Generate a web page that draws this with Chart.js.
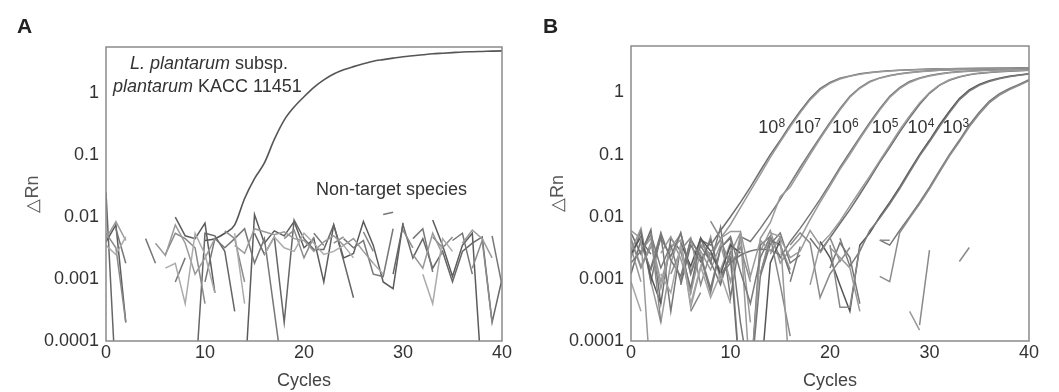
<!DOCTYPE html>
<html>
<head>
<meta charset="utf-8">
<script src="https://cdn.jsdelivr.net/npm/chart.js@4"></script>
<style>
  html, body { margin: 0; padding: 0; background: #fff; }
  #wrap { position: relative; width: 1059px; height: 392px; font-family: "Liberation Sans", Arial, sans-serif; }
  .panel { position: absolute; top: 0; height: 392px; }
  .tag { position: absolute; top: 15px; font-size: 21px; line-height: 21px; font-weight: bold; color: #222; }
</style>
</head>
<body>
<div id="wrap">
  <div class="panel" style="left:0;width:530px"><canvas id="chartA"></canvas></div>
  <div class="panel" style="left:530px;width:529px"><canvas id="chartB"></canvas></div>
  <div class="tag" style="left:17px">A</div>
  <div class="tag" style="left:543px">B</div>
</div>
<script>
const _ = null;
const L = 0.00002; // negative / below the axis, gets clipped

const cycles = [0,1,2,3,4,5,6,7,8,9,10,11,12,13,14,15,16,17,18,19,20,
                21,22,23,24,25,26,27,28,29,30,31,32,33,34,35,36,37,38,39,40];
const xTicks = [0, 10, 20, 30, 40];
const yTicks = [0.0001, 0.001, 0.01, 0.1, 1];
const yTickLabels = ['0.0001', '0.001', '0.01', '0.1', '1'];

// ---- panel A ----
const targetA = [_,_,_,_,_,_,_,_,_,_,
  0.0042,0.0045,0.0055,0.0075,0.02,0.042,0.075,0.18,0.37,0.6,
  0.88,1.25,1.65,2.05,2.4,2.7,3.0,3.3,3.5,3.7,
  3.9,4.05,4.2,4.35,4.45,4.55,4.65,4.7,4.75,4.8,
  4.85];
const noiseA1 = [0.004,0.0075,0.0002,_,_,_,_,0.01,0.005,0.0045,
  0.008,0.0006,_,_,L,0.011,0.0038,0.006,0.005,0.0085,
  0.0032,0.0045,0.0009,0.0075,0.0022,0.0026,0.0085,0.0035,0.0009,0.0007,
  0.008,_,_,0.009,0.0035,0.0011,0.0035,0.0055,L,_,
  _];
const noiseA2 = [0.025,L,_,_,_,_,_,_,_,L,
  0.0055,0.005,0.0028,0.0003,_,0.0055,0.0025,0.0048,0.0002,0.009,
  0.0045,0.003,0.003,0.0075,0.002,0.0005,_,_,_,0.0012,
  0.0075,0.0022,0.0045,0.0015,0.0028,0.0009,0.0028,0.0038,0.0048,0.0002,
  0.001];
const noiseA3 = [0.0045,0.0085,0.0042,_,_,0.0038,0.0024,0.0075,0.0038,0.0012,
  0.0022,0.0045,_,0.0035,0.0026,0.0065,0.0058,0.0052,0.0058,0.0045,
  0.0042,0.0028,0.004,0.005,0.0035,0.0045,0.0028,0.0018,_,0.0055,
  _,0.0025,0.0015,0.0055,0.0025,_,0.0038,0.0062,0.0045,0.0022,
  _];
const noiseA4 = [0.0035,0.0025,0.0048,_,_,_,0.0015,0.0018,0.0004,0.0055,
  0.0025,0.0006,_,0.0055,0.0004,_,0.0025,0.0048,0.0032,0.0028,
  0.0055,0.0038,0.0025,0.0028,0.0035,0.0022,_,0.0018,0.0012,_,
  0.0045,_,0.0012,0.0004,0.0045,0.0028,_,0.0038,_,0.0006,
  _];
const noiseA5 = [_,0.0065,0.0018,_,0.0045,0.0018,_,0.0009,0.0022,_,
  0.0009,0.0045,0.0032,0.0045,0.0065,0.0018,0.0045,0.0003,L,_,
  _,0.0055,0.0035,_,0.0045,0.0032,0.0042,0.0012,0.0011,0.0065,
  _,0.0045,0.0065,0.0013,_,0.0042,0.0055,0.0012,_,0.005,
  0.0008];
const noiseA6 = [0.0055,0.0032,0.0002,_,_,_,0.0025,0.0055,0.0045,0.0032,
  0.0004,_,0.006,0.0045,0.0009,_,_,_,0.0045,0.0062,
  0.0022,0.0048,_,0.0038,0.0048,_,0.0058,0.0028,_,_,
  0.0062,0.0032,_,0.0048,0.0032,0.0048,_,0.0015,0.0042,0.0002,
  _];
const noiseA7 = [_,_,_,_,_,_,_,_,_,_,
  _,_,_,_,_,_,_,_,_,_,
  _,_,_,_,_,_,_,_,0.011,0.012,
  _,_,_,_,_,_,_,_,_,_,
  _];

// ---- panel B (two replicates per dilution) ----
const dil8a = [0.0055,0.0025,0.0062,0.0004,0.0045,0.0028,0.0007,0.0042,0.0035,0.006,
  0.01,0.017,0.03,0.055,0.1,0.17,0.3,0.5,0.8,1.15,
  1.45,1.7,1.85,2.0,2.1,2.18,2.24,2.28,2.32,2.35,
  2.38,2.4,2.42,2.43,2.44,2.45,2.46,2.47,2.48,2.49,
  2.5];
const dil8b = [0.0028,0.0065,0.0009,0.0002,0.0018,0.0055,0.0012,0.0045,0.0021,0.0045,
  0.0075,0.014,0.026,0.048,0.09,0.16,0.28,0.47,0.76,1.1,
  1.4,1.65,1.82,1.97,2.08,2.16,2.22,2.27,2.31,2.34,
  2.37,2.39,2.41,2.42,2.43,2.44,2.45,2.46,2.47,2.48,
  2.49];
const dil7a = [0.0022,0.0058,0.0009,0.0052,0.0003,0.0035,0.0006,0.0045,0.0018,0.0068,
  0.0005,0.0048,0.004,0.0065,0.011,0.019,0.034,0.062,0.11,0.19,
  0.33,0.55,0.87,1.2,1.5,1.72,1.87,2.0,2.1,2.18,
  2.24,2.28,2.32,2.35,2.37,2.39,2.4,2.41,2.42,2.43,
  2.45];
const dil7b = [0.0045,0.0016,0.0038,0.0007,0.0032,0.0042,0.00035,0.0015,0.0048,0.0009,
  0.0026,0.0055,L,0.0045,0.008,0.021,0.03,0.055,0.1,0.18,
  0.31,0.52,0.84,1.17,1.47,1.7,1.85,1.98,2.08,2.16,
  2.22,2.27,2.31,2.34,2.36,2.38,2.39,2.4,2.41,2.42,
  2.44];
const dil6a = [0.0038,_,0.0015,0.0055,0.002,0.0011,0.0042,0.0024,0.0007,0.0032,
  0.0045,0.0002,L,0.0035,0.0048,0.0022,0.004,0.0065,0.011,0.019,
  0.034,0.062,0.11,0.19,0.33,0.55,0.87,1.2,1.5,1.72,
  1.87,2.0,2.1,2.17,2.22,2.26,2.3,2.33,2.35,2.37,
  2.4];
const dil6b = [_,0.0028,0.0045,0.0009,0.0032,0.0052,0.0013,0.0036,0.0025,0.0014,
  0.0038,L,L,0.0028,0.006,0.0018,0.003,0.0045,0.009,0.017,
  0.031,0.058,0.1,0.18,0.31,0.52,0.83,1.15,1.45,1.68,
  1.84,1.97,2.07,2.14,2.2,2.24,2.28,2.31,2.33,2.35,
  2.38];
const dil5a = [0.0012,0.0042,0.0025,_,_,0.0008,0.0035,0.0019,0.0042,0.0011,
  0.0022,L,_,0.0012,0.0042,0.0035,0.0012,_,0.0045,0.0028,
  0.0046,0.0078,0.013,0.023,0.041,0.075,0.13,0.23,0.39,0.64,
  0.97,1.3,1.57,1.78,1.92,2.03,2.1,2.16,2.2,2.24,
  2.27];
const dil5b = [0.0032,0.0009,_,0.0026,0.0048,0.0021,0.0006,0.0028,0.0014,0.0036,
  0.0009,0.0052,0.0002,_,0.0025,0.0048,_,_,0.0008,0.0035,
  0.0052,0.0085,0.015,0.026,0.045,0.08,0.14,0.25,0.42,0.68,
  1.0,1.32,1.6,1.8,1.94,2.05,2.12,2.18,2.22,2.26,
  2.29];
const dil4a = [0.0025,0.0048,0.0011,0.0004,_,0.0038,0.0016,0.0045,0.0028,0.0012,
  0.0035,0.0026,_,L,0.0018,0.0042,_,_,_,0.004,
  0.0022,0.0008,0.0003,0.0035,0.0055,0.01,0.017,0.03,0.055,0.1,
  0.17,0.3,0.5,0.8,1.1,1.35,1.55,1.7,1.82,1.92,
  2.0];
const dil4b = [0.0018,0.0028,0.0052,0.0015,0.0035,0.0009,0.0044,0.0022,0.0006,0.0031,
  0.0048,0.0013,0.0004,0.0022,0.0048,_,0.0009,0.0033,_,_,
  _,0.0045,0.0016,0.0028,0.006,0.0095,0.016,0.028,0.052,0.095,
  0.16,0.28,0.47,0.76,1.05,1.3,1.5,1.66,1.79,1.9,
  1.98];
const dil3a = [_,0.0036,0.0014,0.0045,0.0023,0.0055,0.0012,0.0034,0.0019,0.0008,
  0.0028,_,L,0.0011,0.0036,0.0055,0.0018,0.0024,_,_,
  0.0015,0.0038,0.0022,0.0004,_,0.0042,0.0035,0.006,0.01,0.017,
  0.03,0.055,0.1,0.17,0.3,0.48,0.72,0.95,1.15,1.35,
  1.6];
const dil3b = [0.0042,0.0015,0.0033,_,0.0012,0.0029,0.0046,0.0008,0.0027,0.0042,
  0.0017,0.0032,0.0009,_,_,0.0035,0.0014,_,_,0.0026,
  0.0046,0.0019,0.0032,_,_,0.0011,0.0009,0.0055,0.0095,0.016,
  0.028,0.052,0.095,0.16,0.28,0.45,0.68,0.9,1.1,1.3,
  1.55];
const noiseB1 = [0.006,0.0045,L,_,_,_,_,_,_,_,
  _,_,_,_,0.0055,0.0048,L,_,_,_,
  0.0032,0.0022,0.0015,0.0003,_,_,_,_,0.0003,0.00015,
  _,_,_,_,_,_,_,_,_,_,
  _];
const noiseB2 = [_,_,_,_,_,_,_,_,0.0085,0.0045,
  _,_,_,_,_,_,0.0035,0.0055,0.0038,0.0005,
  0.0012,0.002,_,_,_,0.0042,0.0042,_,_,0.00018,
  0.0029,_,_,0.0019,0.0032,_,_,_,_,_,
  _];
const noiseB3 = [_,_,0.0055,0.0002,_,_,0.0003,0.0006,_,_,
  _,_,_,0.0012,0.0048,0.0008,0.00012,_,_,_,
  0.0035,0.00035,0.00035,0.0032,_,_,_,_,_,_,
  _,_,_,_,_,_,_,_,_,_,
  _];
const noiseB4 = [_,_,_,_,_,_,_,_,_,0.0045,
  0.0058,0.0058,0.0011,0.0042,0.0028,0.0045,0.0022,0.0028,0.006,0.0035,
  _,_,_,_,_,_,_,_,_,_,
  _,_,_,_,_,_,_,_,_,_,
  _];
const noiseB5 = [0.0009,0.0003,_,0.0012,0.0006,0.0035,0.0004,0.0016,0.0005,0.0012,
  0.0004,_,_,_,_,_,_,_,_,_,
  _,_,_,_,_,_,_,_,_,_,
  _,_,_,_,_,_,_,_,_,_,
  _];
const arcB = [_,_,_,_,_,_,_,_,_,0.0011,
  0.0018,0.0024,0.0028,0.003,0.0029,0.0024,_,_,_,_,
  _,_,_,_,_,_,_,_,_,_,
  _,_,_,_,_,_,_,_,_,_,
  _];

const FONT = '"Liberation Sans", Arial, sans-serif';
Chart.defaults.font.family = FONT;

function pts(arr) {
  return cycles.map((c, i) => ({ x: c, y: arr[i] === undefined ? null : arr[i] }));
}

function line(arr, color, width, smooth) {
  return {
    data: pts(arr),
    borderColor: color,
    borderWidth: width || 1.5,
    pointRadius: 0,
    spanGaps: false,
    tension: smooth ? 0.4 : 0,
    cubicInterpolationMode: smooth ? 'monotone' : 'default'
  };
}

const notesPlugin = {
  id: 'notes',
  afterDatasetsDraw(chart, args, opts) {
    const items = opts.items || [];
    const ctx = chart.ctx;
    const xs = chart.scales.x, ys = chart.scales.y;
    ctx.save();
    ctx.fillStyle = '#333';
    ctx.textBaseline = 'alphabetic';
    items.forEach(item => {
      let px = xs.getPixelForValue(item.x);
      const py = ys.getPixelForValue(item.y);
      item.parts.forEach(p => {
        ctx.font = (p.italic ? 'italic ' : '') + (p.sup ? 12 : 18) + 'px ' + FONT;
        ctx.fillText(p.text, px, p.sup ? py - 6 : py);
        px += ctx.measureText(p.text).width;
      });
    });
    ctx.restore();
  }
};

const boxPlugin = {
  id: 'box',
  afterDraw(chart) {
    const a = chart.chartArea, ctx = chart.ctx;
    ctx.save();
    ctx.strokeStyle = '#8a8a8a';
    ctx.lineWidth = 1.5;
    ctx.strokeRect(a.left, a.top, a.right - a.left, a.bottom - a.top);
    ctx.restore();
  }
};

function makeOptions(padLeft, padRight, padTop, notes) {
  return {
    responsive: true,
    maintainAspectRatio: false,
    animation: false,
    layout: { padding: { left: padLeft, right: padRight, top: padTop, bottom: 0 } },
    plugins: {
      legend: { display: false },
      tooltip: { enabled: false },
      notes: { items: notes }
    },
    scales: {
      x: {
        type: 'linear', min: 0, max: 40,
        grid: { display: false, drawTicks: false },
        border: { display: false },
        afterBuildTicks: s => { s.ticks = xTicks.map(v => ({ value: v })); },
        afterFit: s => { s.height = 51; s.paddingLeft = 0; s.paddingRight = 0; },
        ticks: { color: '#333', font: { size: 18 }, padding: 1, maxRotation: 0 },
        title: { display: true, text: 'Cycles', color: '#444', font: { size: 18 }, padding: 0 }
      },
      y: {
        type: 'logarithmic', min: 0.0001, max: 5.6,
        grid: { display: false, drawTicks: false },
        border: { display: false },
        afterBuildTicks: s => { s.ticks = yTicks.map(v => ({ value: v })); },
        afterFit: s => { s.width = 96; s.paddingTop = 0; s.paddingBottom = 0; },
        ticks: {
          color: '#333', font: { size: 18 }, padding: 7,
          callback: (v, i) => yTickLabels[i]
        },
        title: { display: true, text: '\u25B3Rn', color: '#555', font: { size: 18 }, padding: { top: 12, bottom: 0 } }
      }
    }
  };
}

new Chart(document.getElementById('chartA'), {
  type: 'line',
  data: {
    datasets: [
      line(noiseA4, '#ababab'),
      line(noiseA3, '#9a9a9a'),
      line(noiseA6, '#8a8a8a'),
      line(noiseA5, '#777'),
      line(noiseA7, '#777'),
      line(noiseA2, '#666'),
      line(noiseA1, '#5c5c5c'),
      line(targetA, '#555', 1.6, true)
    ]
  },
  options: makeOptions(10, 28, 47, [
    { x: 2.42, y: 2.44, parts: [{ text: 'L. plantarum', italic: true }, { text: ' subsp.' }] },
    { x: 0.71, y: 1.04, parts: [{ text: 'plantarum', italic: true }, { text: ' KACC 11451' }] },
    { x: 21.2, y: 0.0226, parts: [{ text: 'Non-target species' }] }
  ]),
  plugins: [notesPlugin, boxPlugin]
});

new Chart(document.getElementById('chartB'), {
  type: 'line',
  data: {
    datasets: [
      line(noiseB1, '#999'),
      line(noiseB2, '#8a8a8a'),
      line(noiseB3, '#888'),
      line(noiseB4, '#9a9a9a'),
      line(noiseB5, '#a5a5a5'),
      line(arcB, '#777', 1.5, true),
      line(dil3b, '#8c8c8c'),
      line(dil3a, '#777'),
      line(dil4b, '#7a7a7a'),
      line(dil4a, '#555'),
      line(dil5b, '#999'),
      line(dil5a, '#6e6e6e'),
      line(dil6b, '#999'),
      line(dil6a, '#777'),
      line(dil7b, '#999'),
      line(dil7a, '#777'),
      line(dil8b, '#999'),
      line(dil8a, '#6e6e6e')
    ]
  },
  options: makeOptions(5, 30, 46, [
    { x: 12.8, y: 0.226, parts: [{ text: '10' }, { text: '8', sup: true }] },
    { x: 16.4, y: 0.226, parts: [{ text: '10' }, { text: '7', sup: true }] },
    { x: 20.2, y: 0.226, parts: [{ text: '10' }, { text: '6', sup: true }] },
    { x: 24.2, y: 0.226, parts: [{ text: '10' }, { text: '5', sup: true }] },
    { x: 27.8, y: 0.226, parts: [{ text: '10' }, { text: '4', sup: true }] },
    { x: 31.3, y: 0.226, parts: [{ text: '10' }, { text: '3', sup: true }] }
  ]),
  plugins: [notesPlugin, boxPlugin]
});
</script>
</body>
</html>
